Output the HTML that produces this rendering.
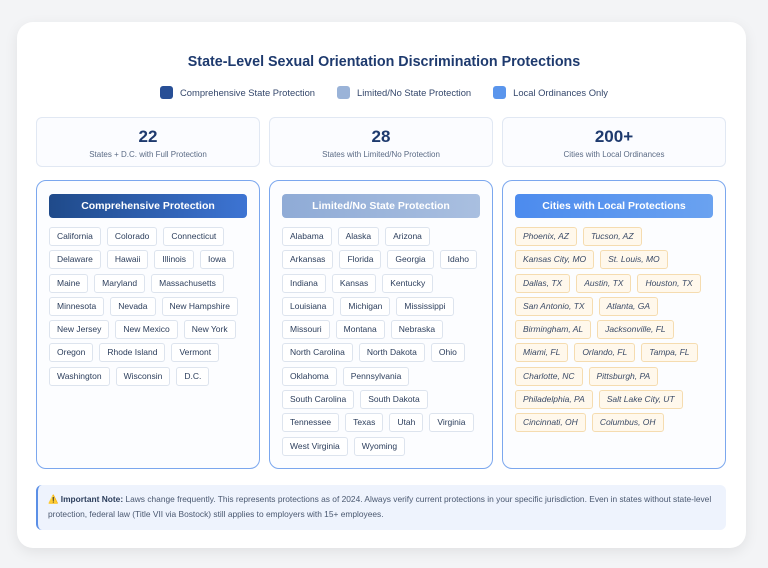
<!DOCTYPE html>
<html><head><meta charset="utf-8"><style>
*{box-sizing:border-box;margin:0;padding:0}
body{width:768px;height:568px;background:#f3f4f6;font-family:"Liberation Sans",sans-serif;position:relative;overflow:hidden}
.card{position:absolute;left:17px;top:22px;width:729px;height:526px;background:#fff;border-radius:16px;box-shadow:0 4px 14px rgba(0,0,0,.08)}
h1{position:absolute;left:0;right:0;top:54px;text-align:center;font-size:14.3px;color:#1e3a6e;font-weight:bold}
.legend{position:absolute;top:86px;left:0;right:0;display:flex;justify-content:center;gap:22px;font-size:9.4px;color:#34476b}
.legend span{display:flex;align-items:center}
.sw{width:13px;height:13px;border-radius:3px;margin-right:7px;display:inline-block}
.stat{position:absolute;top:117px;width:224px;height:50px;border:1px solid #e1e8f3;border-radius:6px;background:#fbfcff;text-align:center}
.stat b{display:block;font-size:17px;color:#1e3a6e;margin-top:9px}
.stat i{font-style:normal;display:block;font-size:8px;color:#5b6b85;margin-top:3px}
.panel{position:absolute;top:180px;width:224px;height:289px;border:1.5px solid #7ba7ee;border-radius:10px;background:#fcfdff;padding:13px 12px}
.hd{height:24px;border-radius:4px;color:#fff;font-weight:bold;font-size:10.5px;text-align:center;line-height:24px;margin-bottom:9px}
.tags{display:flex;flex-wrap:wrap;gap:4.3px 6px}
.t{height:19px;line-height:17px;font-size:8.5px;padding:0 7px;border:1px solid #dde4ee;border-radius:3px;color:#2c3e5c;background:#fff}
.c .t{background:#fff8ec;border-color:#f5dcb0;font-style:italic;color:#3a4a66}
.note{position:absolute;left:36px;top:485px;width:690px;height:45px;background:#eef3fd;border-left:2px solid #5b8fe6;border-radius:6px;font-size:8.4px;color:#4a5870;padding:7px 10px;line-height:15px}
</style></head><body>
<div class="card"></div>
<h1>State-Level Sexual Orientation Discrimination Protections</h1>
<div class="legend"><span><i class="sw" style="background:#284f96"></i>Comprehensive State Protection</span><span><i class="sw" style="background:#9ab3d8"></i>Limited/No State Protection</span><span><i class="sw" style="background:#5a95ec"></i>Local Ordinances Only</span></div>
<div class="stat" style="left:36px"><b>22</b><i>States + D.C. with Full Protection</i></div>
<div class="stat" style="left:269px"><b>28</b><i>States with Limited/No Protection</i></div>
<div class="stat" style="left:502px"><b>200+</b><i>Cities with Local Ordinances</i></div>
<div class="panel" style="left:36px"><div class="hd" style="background:linear-gradient(90deg,#1f4a8a,#3d74d3)">Comprehensive Protection</div><div class="tags">
<span class="t">California</span><span class="t">Colorado</span><span class="t">Connecticut</span><span class="t">Delaware</span><span class="t">Hawaii</span><span class="t">Illinois</span><span class="t">Iowa</span><span class="t">Maine</span><span class="t">Maryland</span><span class="t">Massachusetts</span><span class="t">Minnesota</span><span class="t">Nevada</span><span class="t">New Hampshire</span><span class="t">New Jersey</span><span class="t">New Mexico</span><span class="t">New York</span><span class="t">Oregon</span><span class="t">Rhode Island</span><span class="t">Vermont</span><span class="t">Washington</span><span class="t">Wisconsin</span><span class="t">D.C.</span></div></div>
<div class="panel" style="left:269px"><div class="hd" style="background:linear-gradient(90deg,#8fabd6,#a9bfe0)">Limited/No State Protection</div><div class="tags">
<span class="t">Alabama</span><span class="t">Alaska</span><span class="t">Arizona</span><span class="t">Arkansas</span><span class="t">Florida</span><span class="t">Georgia</span><span class="t">Idaho</span><span class="t">Indiana</span><span class="t">Kansas</span><span class="t">Kentucky</span><span class="t">Louisiana</span><span class="t">Michigan</span><span class="t">Mississippi</span><span class="t">Missouri</span><span class="t">Montana</span><span class="t">Nebraska</span><span class="t">North Carolina</span><span class="t">North Dakota</span><span class="t">Ohio</span><span class="t">Oklahoma</span><span class="t">Pennsylvania</span><span class="t">South Carolina</span><span class="t">South Dakota</span><span class="t">Tennessee</span><span class="t">Texas</span><span class="t">Utah</span><span class="t">Virginia</span><span class="t">West Virginia</span><span class="t">Wyoming</span></div></div>
<div class="panel c" style="left:502px"><div class="hd" style="background:linear-gradient(90deg,#4c8bee,#6aa2f0)">Cities with Local Protections</div><div class="tags">
<span class="t">Phoenix, AZ</span><span class="t">Tucson, AZ</span><span class="t">Kansas City, MO</span><span class="t">St. Louis, MO</span><span class="t">Dallas, TX</span><span class="t">Austin, TX</span><span class="t">Houston, TX</span><span class="t">San Antonio, TX</span><span class="t">Atlanta, GA</span><span class="t">Birmingham, AL</span><span class="t">Jacksonville, FL</span><span class="t">Miami, FL</span><span class="t">Orlando, FL</span><span class="t">Tampa, FL</span><span class="t">Charlotte, NC</span><span class="t">Pittsburgh, PA</span><span class="t">Philadelphia, PA</span><span class="t">Salt Lake City, UT</span><span class="t">Cincinnati, OH</span><span class="t">Columbus, OH</span></div></div>
<div class="note">⚠️ <b style="color:#2c3e5c">Important Note:</b> Laws change frequently. This represents protections as of 2024. Always verify current protections in your specific jurisdiction. Even in states without state-level protection, federal law (Title VII via Bostock) still applies to employers with 15+ employees.</div>
</body></html>
